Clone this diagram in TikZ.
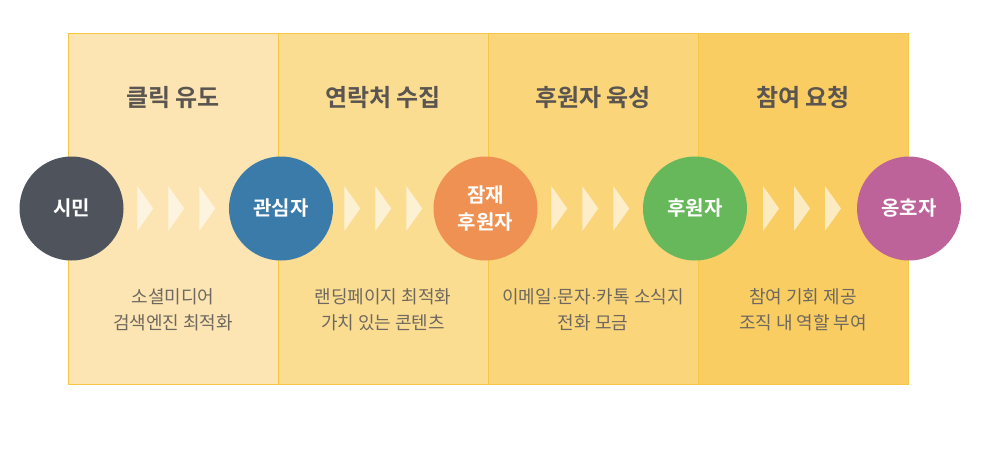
\documentclass[tikz,border=0pt]{standalone}
\usepackage{fontspec}
\setmainfont{Noto Sans CJK KR}[BoldFont={Noto Sans CJK KR Bold}]
\newfontfamily\dotfont{Liberation Sans}
\usetikzlibrary{positioning}

\definecolor{stageA}{HTML}{FCE5B2}
\definecolor{stageB}{HTML}{FBDD92}
\definecolor{stageC}{HTML}{FAD57A}
\definecolor{stageD}{HTML}{F9CD62}
\definecolor{panelline}{HTML}{F6C744}
\definecolor{titlegray}{HTML}{5A5550}
\definecolor{descgray}{HTML}{6E6860}
\definecolor{citizenc}{HTML}{4F545C}
\definecolor{interestc}{HTML}{3A7BAA}
\definecolor{prospectc}{HTML}{EE9152}
\definecolor{donorc}{HTML}{66B85B}
\definecolor{advocatec}{HTML}{BD6399}

\newcommand{\middot}{{\dotfont ·}}

\begin{document}
\begin{tikzpicture}[x=1pt,y=1pt,node distance=210pt]
      \tikzstyle{panel}=[draw=panelline,line width=0.8pt,minimum width=210pt,minimum height=351pt,inner sep=0pt]
      \tikzstyle{stage}=[circle,minimum size=104pt,inner sep=0pt,text=white,align=center,font=\fontsize{20}{27}\selectfont\bfseries]
      \tikzstyle{title}=[text=titlegray,font=\fontsize{24}{28}\selectfont\bfseries]
      \tikzstyle{desc}=[text=descgray,align=center,font=\fontsize{18}{26}\selectfont]
      \tikzstyle{chev}=[fill=white,fill opacity=0.6]

      \fill[white] (0,0) rectangle (990,-451);
      \useasboundingbox (0,0) rectangle (990,-451);

      % panels
      \node[panel,fill=stageA] (P1) at (173,-208.5) {};
      \node[panel,fill=stageB] (P2) [right of=P1]   {};
      \node[panel,fill=stageC] (P3) [right of=P2]   {};
      \node[panel,fill=stageD] (P4) [right of=P3]   {};

      \node[title] (T1) at ([yshift=111pt]P1.center) {클릭 유도};
      \node[title] (T2) at ([yshift=111pt]P2.center) {연락처 수집};
      \node[title] (T3) at ([yshift=111pt]P3.center) {후원자 육성};
      \node[title] (T4) at ([yshift=111pt]P4.center) {참여 요청};

      \node[desc] (D1) at ([yshift=-101pt]P1.center) {소셜미디어\\검색엔진 최적화};
      \node[desc] (D2) at ([yshift=-101pt]P2.center) {랜딩페이지 최적화\\가치 있는 콘텐츠};
      \node[desc] (D3) at ([yshift=-101pt]P3.center) {이메일\middot 문자\middot 카톡 소식지\\전화 모금};
      \node[desc] (D4) at ([yshift=-101pt]P4.center) {참여 기회 제공\\조직 내 역할 부여};

      % stages
      \node[stage,fill=citizenc]  (citizen)  at (71.5,-208.5)                  {시민};
      \node[stage,fill=interestc] (interest) [right of=citizen,xshift=-0.5pt]  {관심자};
      \node[stage,fill=prospectc] (prospect) [right of=interest,xshift=-5.5pt] {잠재\\후원자};
      \node[stage,fill=donorc]    (donor)    [right of=prospect,xshift=-0.5pt] {후원자};
      \node[stage,fill=advocatec] (advocate) [right of=donor,xshift=4pt]       {옹호자};

      \foreach \a/\b in {citizen/interest,interest/prospect,prospect/donor,donor/advocate}{
        \path (\a) -- (\b) coordinate[pos=0.5] (gap);
        \foreach \s in {-31,0,31}
          \fill[chev] ([xshift=\s pt-8pt,yshift=22.5pt]gap) -- ++(16,-22.5) -- ++(-16,-22.5) -- cycle;
      }
\end{tikzpicture}
\end{document}
